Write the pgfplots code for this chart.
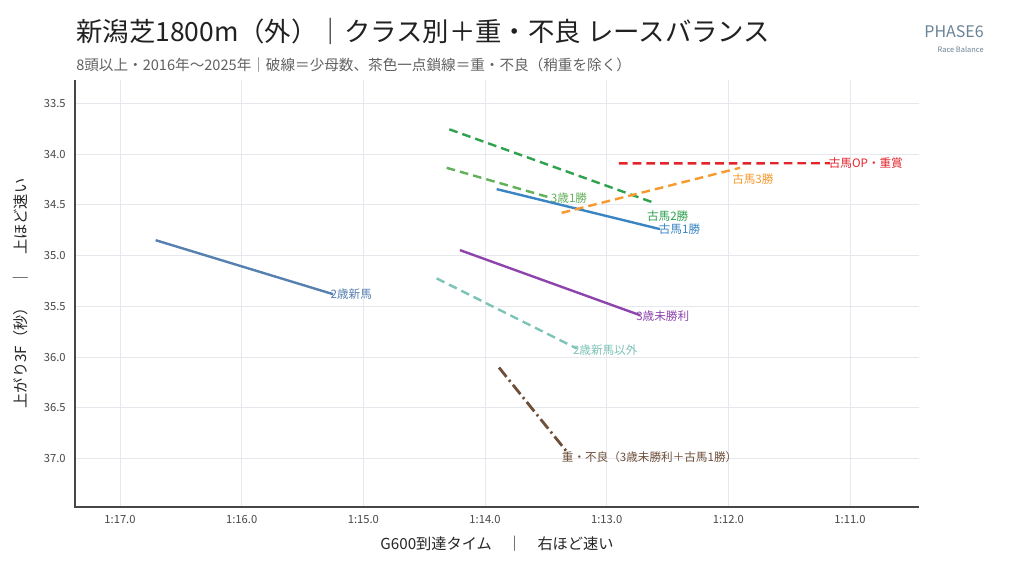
\documentclass[border=0pt]{standalone}
\usepackage{fontspec}
\setmainfont{Noto Sans CJK JP}
\usepackage{pgfplots}
\pgfplotsset{compat=1.18}
\definecolor{cA}{HTML}{5580B0}
\definecolor{cB}{HTML}{3A84C4}
\definecolor{cC}{HTML}{62B05A}
\definecolor{cD}{HTML}{2FA24F}
\definecolor{cE}{HTML}{F79A2E}
\definecolor{cF}{HTML}{E3242B}
\definecolor{cG}{HTML}{8E44AD}
\definecolor{cH}{HTML}{7CC3B8}
\definecolor{cI}{HTML}{6E4F3A}
\definecolor{gridc}{HTML}{E6E8EE}
\definecolor{logo}{HTML}{6A8497}
\begin{document}
\begin{tikzpicture}
\path[fill=white,use as bounding box] (0pt,0pt) rectangle (768pt,-426pt);
\node[anchor=base west,inner sep=0,text=black!87,font=\fontsize{19.8pt}{22pt}\selectfont] at (57pt,-30.9pt) {新潟芝1800m（外）｜クラス別＋重・不良 レースバランス};
\node[anchor=base west,inner sep=0,text=black!62,font=\fontsize{10.95pt}{12pt}\selectfont] at (57pt,-53.2pt) {8頭以上・2016年〜2025年｜破線＝少母数、茶色一点鎖線＝重・不良（稍重を除く）};
\node[anchor=base east,inner sep=0,text=logo,font=\fontsize{12pt}{14pt}\selectfont] at (738pt,-28pt) {PHASE6};
\node[anchor=base east,inner sep=0,text=logo,font=\fontsize{5.6pt}{7pt}\selectfont] at (738pt,-39.5pt) {Race Balance};
\begin{axis}[
  at={(56.25pt,-380.25pt)}, anchor=south west,
  width=633pt, height=320.25pt, scale only axis,
  xmin=70.433, xmax=77.37, x dir=reverse,
  ymin=33.27, ymax=37.477, y dir=reverse,
  xtick={71,72,73,74,75,76,77},
  xticklabels={1:11.0,1:12.0,1:13.0,1:14.0,1:15.0,1:16.0,1:17.0},
  ytick={33.5,34,34.5,35,35.5,36,36.5,37},
  yticklabel style={/pgf/number format/fixed,/pgf/number format/fixed zerofill,/pgf/number format/precision=1, xshift=-3.5pt},
  /pgf/number format/assume math mode=true,
  ticklabel style={font=\fontsize{8.4pt}{10pt}\selectfont, text=black!72},
  xticklabel style={yshift=-2.5pt},
  major tick length=0pt,
  grid=major, major grid style={gridc, line width=0.6pt},
  axis line style={draw=none},
  clip=false,
  xlabel={G600到達タイム　｜　右ほど速い},
  ylabel={上がり3F（秒）　｜　上ほど速い},
  label style={font=\fontsize{11.4pt}{13pt}\selectfont, text=black!85},
  xlabel style={at={(0.5,0)}, anchor=base, yshift=-31.5pt},
  ylabel style={at={(0,0.5)}, anchor=base, rotate=0, xshift=0pt, yshift=36pt},
]
\addplot[cA, line width=1.8pt] coordinates {(76.707,34.848) (75.249,35.380)};
\addplot[cB, line width=1.8pt] coordinates {(73.904,34.345) (72.562,34.739)};
\addplot[cC, line width=1.8pt, dash pattern=on 6.5pt off 3.8pt] coordinates {(74.315,34.135) (73.449,34.434)};
\addplot[cD, line width=1.8pt, dash pattern=on 6.5pt off 3.8pt] coordinates {(74.293,33.756) (72.597,34.486)};
\addplot[cE, line width=1.8pt, dash pattern=on 6.5pt off 3.8pt] coordinates {(73.370,34.579) (71.904,34.135)};
\addplot[cF, line width=1.8pt, dash pattern=on 6.5pt off 3.8pt] coordinates {(72.899,34.092) (71.165,34.090)};
\addplot[cG, line width=1.8pt] coordinates {(74.206,34.946) (72.726,35.587)};
\addplot[cH, line width=1.8pt, dash pattern=on 6.5pt off 3.8pt] coordinates {(74.397,35.225) (73.246,35.915)};
\addplot[cI, line width=2.1pt, dash pattern=on 9pt off 3pt on 1.6pt off 3pt] coordinates {(73.885,36.103) (73.315,36.951)};
\begin{scope}[every node/.style={anchor=west, inner sep=0pt, font=\fontsize{8.7pt}{10pt}\selectfont}]
\node[text=cA, xshift=-2pt] at (axis cs:75.249,35.380) {2歳新馬};
\node[text=cB, xshift=-1pt] at (axis cs:72.562,34.739) {古馬1勝};
\node[text=cC, xshift=-1pt] at (axis cs:73.449,34.434) {3歳1勝};
\node[text=cD] at (axis cs:72.670,34.610) {古馬2勝};
\node[text=cE] at (axis cs:71.970,34.245) {古馬3勝};
\node[text=cF, xshift=-1pt] at (axis cs:71.165,34.090) {古馬OP・重賞};
\node[text=cG, xshift=-3pt] at (axis cs:72.726,35.600) {3歳未勝利};
\node[text=cH, xshift=-3pt] at (axis cs:73.246,35.930) {2歳新馬以外};
\node[text=cI, xshift=-5pt] at (axis cs:73.315,36.985) {重・不良（3歳未勝利＋古馬1勝）};
\end{scope}
\end{axis}
\draw[black!72, line width=0.8pt] (56.25pt,-60pt) -- (56.25pt,-380.25pt) -- (689.25pt,-380.25pt);
\end{tikzpicture}
\end{document}
